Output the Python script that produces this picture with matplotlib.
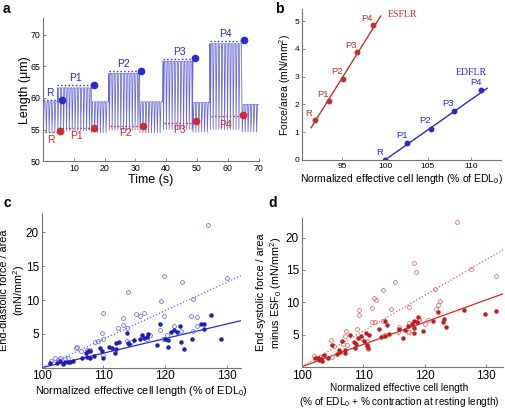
"""Four-panel cell length / force figure (a: length trace, b: ESFLR/EDFLR, c-d: pooled fits)."""

import matplotlib.pyplot as plt
import numpy as np

plt.rcParams["font.family"] = ["Liberation Sans", "DejaVu Sans"]
plt.rcParams["mathtext.fontset"] = "custom"
plt.rcParams["mathtext.rm"] = "Liberation Sans"
plt.rcParams["mathtext.it"] = "Liberation Sans:italic"

# ---------------------------------------------------------------------------
# Data
# ---------------------------------------------------------------------------

# Panel a: length trace, one entry per stretch segment (rest / P1..P4)
seg_start = [0.0, 4.7, 15.7, 21.4, 31.4, 39.0, 48.6, 54.2, 64.6]
seg_end = [4.7, 15.7, 21.4, 31.4, 39.0, 48.6, 54.2, 64.6, 70.0]
seg_dia = [59.4, 61.6, 59.4, 63.9, 59.4, 65.8, 59.3, 68.6, 59.0]
seg_sys = [54.5, 54.8, 54.5, 54.9, 54.5, 55.0, 54.6, 55.0, 54.6]
beat_period = 0.93

a_labels = ["R", "P1", "P2", "P3", "P4"]
a_dia_start = [0.0, 4.7, 21.4, 39.0, 54.2]
a_dia_end = [4.6, 15.7, 31.4, 48.4, 64.0]
a_dia_level = [59.7, 62.0, 64.3, 66.2, 69.0]
a_dia_dot_t = [6.2, 16.6, 31.8, 49.3, 65.3]
a_dia_dot_y = [59.7, 62.0, 64.3, 66.3, 69.1]
a_sys_start = [0.5, 4.9, 21.6, 39.3, 54.6]
a_sys_end = [4.9, 15.8, 31.8, 49.0, 64.4]
a_sys_level = [54.6, 55.2, 55.6, 56.1, 57.2]
a_sys_dot_t = [5.4, 16.5, 32.5, 49.7, 65.0]
a_sys_dot_y = [54.7, 55.3, 55.6, 56.3, 57.3]
a_dia_lab_t = [2.2, 10.4, 26.3, 44.4, 59.3]
a_dia_lab_y = [60.8, 63.1, 65.4, 67.3, 70.2]
a_sys_lab_t = [2.4, 10.9, 26.7, 44.3, 59.3]
a_sys_lab_y = [53.4, 54.0, 54.4, 54.9, 55.8]

# Panel b: force-length relations
b_labels = ["R", "P1", "P2", "P3", "P4"]
esflr_x = [91.9, 93.5, 95.1, 96.8, 98.6]
esflr_y = [1.43, 2.11, 2.93, 3.87, 4.84]
esflr_line_x = [91.4, 99.5]
esflr_line_y = [1.16, 5.18]
edflr_x = [100.0, 102.6, 105.3, 108.0, 111.2]
edflr_y = [0.0, 0.62, 1.13, 1.75, 2.50]
edflr_line_x = [100.0, 111.9]
edflr_line_y = [0.0, 2.58]

# Panel c: end-diastolic force vs length (open = dotted fit, filled = solid fit)
c_open_x = [114.0, 109.9, 113.2, 115.3, 115.9, 112.4, 113.2, 113.9, 109.7, 110.0,
            108.7, 109.2, 105.8, 105.6, 106.3, 107.3, 107.9, 102.1, 103.0, 103.8,
            104.2, 114.5, 113.8, 110.0, 101.5, 102.6, 126.9, 119.8, 122.8, 130.1,
            124.5, 119.4, 116.6, 119.8, 124.2, 125.1, 121.4, 125.1, 119.2, 122.6,
            124.5, 120.3, 119.6, 117.0, 117.5]
c_open_y = [11.2, 8.1, 7.4, 7.9, 7.7, 5.8, 6.3, 5.8, 5.1, 4.3,
            3.8, 3.9, 3.1, 2.9, 2.4, 2.6, 2.6, 1.5, 1.4, 1.3,
            1.5, 3.8, 3.9, 1.9, 1.0, 1.2, 21.1, 13.5, 12.6, 13.3,
            10.2, 9.9, 8.1, 7.7, 7.7, 7.5, 6.2, 6.2, 5.6, 5.4,
            5.4, 4.9, 4.3, 4.3, 4.8]
c_fill_x = [113.8, 116.2, 116.6, 117.0, 117.3, 116.0, 112.5, 112.0, 110.9, 111.4,
            109.5, 109.7, 110.0, 107.5, 107.9, 107.3, 107.8, 114.0, 114.2, 114.9,
            103.0, 103.8, 104.3, 104.6, 105.0, 101.4, 102.4, 103.4, 111.8, 112.0,
            108.5, 107.2, 106.5, 127.4, 119.2, 125.8, 126.3, 122.4, 121.5, 121.9,
            121.0, 126.3, 119.9, 120.5, 124.3, 129.0, 118.7, 122.6, 120.5, 123.1]
c_fill_y = [5.1, 4.8, 4.4, 4.6, 5.0, 4.3, 3.8, 3.6, 3.1, 2.9,
            2.9, 2.4, 1.4, 2.4, 2.5, 1.6, 1.4, 3.6, 3.5, 4.1,
            1.0, 0.9, 0.9, 0.8, 1.0, 0.7, 0.7, 0.6, 2.2, 2.8,
            1.8, 2.2, 1.5, 7.8, 6.5, 6.5, 6.5, 6.2, 5.6, 5.3,
            5.2, 5.7, 4.3, 4.1, 4.2, 4.2, 3.3, 3.8, 3.0, 2.8]
c_fit_x = [100.0, 132.3]
c_open_fit_y = [0.0, 13.6]
c_fill_fit_y = [0.0, 6.95]

# Panel d: end-systolic force minus ESF0 vs length
d_open_x = [115.1, 113.3, 111.7, 112.1, 109.3, 109.4, 111.5, 114.6, 111.5, 111.9,
            109.0, 113.3, 107.2, 107.1, 104.8, 105.2, 106.8, 107.4, 102.0, 103.0,
            103.4, 105.0, 110.7, 109.7, 113.5, 113.2, 110.8, 102.6, 110.6, 125.2,
            118.2, 118.6, 127.5, 131.5, 121.7, 122.4, 122.1, 121.9, 117.4, 119.0,
            119.1, 117.4, 115.9, 120.6, 120.0, 117.5, 117.2, 115.6]
d_open_y = [13.1, 11.9, 10.7, 10.4, 8.8, 8.0, 9.1, 8.9, 7.0, 7.0,
            5.8, 7.1, 5.5, 4.8, 4.2, 3.2, 3.5, 3.4, 1.6, 1.5,
            1.6, 1.5, 4.0, 4.5, 5.0, 4.8, 2.8, 1.2, 3.2, 22.5,
            16.1, 14.7, 15.2, 14.1, 12.0, 10.2, 9.6, 9.0, 9.2, 7.2,
            7.4, 6.8, 6.2, 7.3, 6.7, 5.4, 5.4, 5.4]
d_fill_x = [113.5, 113.8, 112.5, 110.4, 110.9, 109.7, 113.6, 114.2, 107.8, 109.2,
            108.5, 108.9, 110.1, 106.6, 104.9, 106.0, 106.2, 107.0, 107.1, 108.7,
            110.8, 103.6, 102.7, 102.9, 103.1, 103.3, 102.2, 112.9, 105.8, 104.3,
            110.7, 118.9, 118.3, 122.2, 126.3, 129.8, 131.5, 123.0, 123.1, 123.4,
            121.4, 118.8, 117.2, 116.8, 118.3, 115.9, 119.7, 118.2, 116.5, 118.0]
d_fill_y = [7.1, 6.4, 5.8, 5.3, 5.0, 4.8, 4.8, 5.1, 4.9, 4.5,
            3.8, 3.6, 4.0, 4.0, 3.4, 2.6, 2.3, 2.6, 2.2, 2.9,
            2.9, 1.8, 1.4, 1.0, 1.2, 0.9, 1.4, 4.6, 2.0, 1.4,
            3.4, 7.7, 7.1, 8.5, 8.8, 8.1, 8.7, 7.0, 7.4, 6.2,
            7.1, 7.0, 6.3, 5.7, 6.0, 5.8, 5.5, 5.3, 4.5, 6.7]
d_fit_x = [100.0, 132.7]
d_open_fit_y = [0.0, 18.1]
d_fill_fit_y = [0.0, 11.3]

# ---------------------------------------------------------------------------
# Styling
# ---------------------------------------------------------------------------

BLUE = "#2a2ad0"
RED = "#d02a2a"
DARK_RED = "#c03030"
TRACE = "#6464d6"
SPINE = "0.45"


def _style(ax, tick_fs):
    for side in ("top", "right"):
        ax.spines[side].set_visible(False)
    for side in ("left", "bottom"):
        ax.spines[side].set_color(SPINE)
        ax.spines[side].set_linewidth(0.8)
    ax.tick_params(direction="in", length=2, width=0.6, color=SPINE,
                   labelsize=tick_fs, pad=2)


def _trace():
    """Build the beat-by-beat length trace from the segment table."""
    t, y = [], []
    for t0, t1, dia, sys_ in zip(seg_start, seg_end, seg_dia, seg_sys):
        for b in np.arange(t0, t1 - 0.3, beat_period):
            t += [b, b + 0.12, b + 0.42, min(b + beat_period, t1)]
            y += [dia, sys_, dia, dia]
    return t, y


fig = plt.figure(figsize=(5.06, 4.08), dpi=100)

# ---------------------------------------------------------------------------
# Panel a
# ---------------------------------------------------------------------------
ax_a = fig.add_axes([0.085, 0.605, 0.426, 0.350])
tt, yy = _trace()
ax_a.plot(tt, yy, color=TRACE, linewidth=0.55)
for i, lab in enumerate(a_labels):
    ax_a.plot([a_dia_start[i], a_dia_end[i]], [a_dia_level[i]] * 2, ":", color=BLUE, linewidth=1.0)
    ax_a.plot([a_sys_start[i], a_sys_end[i]], [a_sys_level[i]] * 2, ":", color=RED, linewidth=1.0)
    ax_a.text(a_dia_lab_t[i], a_dia_lab_y[i], lab, color=BLUE, fontsize=7.5, ha="center", va="center")
    ax_a.text(a_sys_lab_t[i], a_sys_lab_y[i], lab, color=RED, fontsize=7.5, ha="center", va="center")
ax_a.plot(a_dia_dot_t, a_dia_dot_y, "o", color=BLUE, markersize=4.5, linestyle="none")
ax_a.plot(a_sys_dot_t, a_sys_dot_y, "o", color=RED, markersize=4.5, linestyle="none")
ax_a.set_xlim(0, 70)
ax_a.set_ylim(50, 72.6)
ax_a.set_xticks([10, 20, 30, 40, 50, 60, 70])
ax_a.set_yticks([50, 55, 60, 65, 70])
_style(ax_a, 6.3)
ax_a.set_xlabel("Time (s)", fontsize=9, labelpad=1)
ax_a.set_ylabel("Length (μm)", fontsize=9)
ax_a.yaxis.set_label_coords(-0.056, 0.5)

# ---------------------------------------------------------------------------
# Panel b
# ---------------------------------------------------------------------------
ax_b = fig.add_axes([0.597, 0.608, 0.393, 0.369])
ax_b.plot(esflr_line_x, esflr_line_y, color=DARK_RED, linewidth=1.0)
ax_b.plot(esflr_x, esflr_y, "o", color=DARK_RED, markersize=3.2)
ax_b.plot(edflr_line_x, edflr_line_y, color=BLUE, linewidth=1.0)
ax_b.plot(edflr_x, edflr_y, "o", color=BLUE, markersize=3.2)
for lab, x, y in zip(b_labels, esflr_x, esflr_y):
    ax_b.annotate(lab, (x, y), xytext=(-4.5, 5), textcoords="offset points",
                  color=DARK_RED, fontsize=6.8, ha="center", va="center")
for lab, x, y in zip(b_labels, edflr_x, edflr_y):
    ax_b.annotate(lab, (x, y), xytext=(-4, 5.5), textcoords="offset points",
                  color=BLUE, fontsize=6.8, ha="center", va="center")
ax_b.text(102.0, 5.25, "ESFLR", color=DARK_RED, fontsize=7, ha="center", va="center",
          family=["Liberation Serif"])
ax_b.text(110.0, 3.14, "EDFLR", color=BLUE, fontsize=7, ha="center", va="center",
          family=["Liberation Serif"])
ax_b.set_xlim(90.35, 113.5)
ax_b.set_ylim(0, 5.42)
ax_b.set_xticks([95, 100, 105, 110])
ax_b.set_yticks([0, 1, 2, 3, 4, 5])
_style(ax_b, 6)
ax_b.set_xlabel("Normalized effective cell length (% of EDL$_\\mathrm{0}$)", fontsize=7.5, labelpad=2)
ax_b.set_ylabel("Force/area (mN/mm$^\\mathrm{2}$)", fontsize=7.5)
ax_b.yaxis.set_label_coords(-0.047, 0.5)

# ---------------------------------------------------------------------------
# Panel c
# ---------------------------------------------------------------------------
ax_c = fig.add_axes([0.0824, 0.0988, 0.394, 0.379])
ax_c.plot(c_fit_x, c_open_fit_y, ":", color="#6a6ae8", linewidth=0.9)
ax_c.plot(c_fit_x, c_fill_fit_y, "-", color="#2a2ae0", linewidth=0.9)
ax_c.plot(c_open_x, c_open_y, "o", mfc="none", mec="#7474e2", mew=0.6, markersize=2.8, linestyle="none")
ax_c.plot(c_fill_x, c_fill_y, "o", color="#1e1eb4", markersize=2.2, linestyle="none")
ax_c.set_xlim(100, 132.3)
ax_c.set_ylim(0, 22.85)
ax_c.set_xticks([100, 110, 120, 130])
ax_c.set_yticks([5, 10, 15, 20])
_style(ax_c, 8.5)
ax_c.set_xlabel("Normalized effective cell length (% of EDL$_\\mathrm{0}$)", fontsize=7.8, labelpad=1)
ax_c.set_ylabel("End-diastolic force / area\n(mN/mm$^\\mathrm{2}$)", fontsize=7.8)
ax_c.yaxis.set_label_coords(-0.074, 0.5)

# ---------------------------------------------------------------------------
# Panel d
# ---------------------------------------------------------------------------
ax_d = fig.add_axes([0.596, 0.101, 0.398, 0.364])
ax_d.plot(d_fit_x, d_open_fit_y, ":", color="#e05a5a", linewidth=0.9)
ax_d.plot(d_fit_x, d_fill_fit_y, "-", color="#d42a2a", linewidth=0.9)
ax_d.plot(d_open_x, d_open_y, "o", mfc="none", mec="#e07070", mew=0.6, markersize=2.8, linestyle="none")
ax_d.plot(d_fill_x, d_fill_y, "o", color="#c01e1e", markersize=2.2, linestyle="none")
ax_d.set_xlim(100, 132.7)
ax_d.set_ylim(0, 23)
ax_d.set_xticks([100, 110, 120, 130])
ax_d.set_yticks([5, 10, 15, 20])
_style(ax_d, 8.5)
ax_d.set_xlabel("Normalized effective cell length\n(% of EDL$_\\mathrm{0}$ + % contraction at resting length)",
                fontsize=7.2, labelpad=1)
ax_d.xaxis.set_label_coords(0.485, -0.108)
ax_d.set_ylabel("End-systolic force / area\nminus ESF$_\\mathrm{0}$ (mN/mm$^\\mathrm{2}$)", fontsize=7.8)
ax_d.yaxis.set_label_coords(-0.088, 0.5)

# Panel letters
for lab, x, y in [("a", 0.006, 0.978), ("b", 0.543, 0.978), ("c", 0.006, 0.502), ("d", 0.530, 0.502)]:
    fig.text(x, y, lab, fontsize=10, fontweight="bold", ha="left", va="center")

fig.savefig("out.png", dpi=100)
